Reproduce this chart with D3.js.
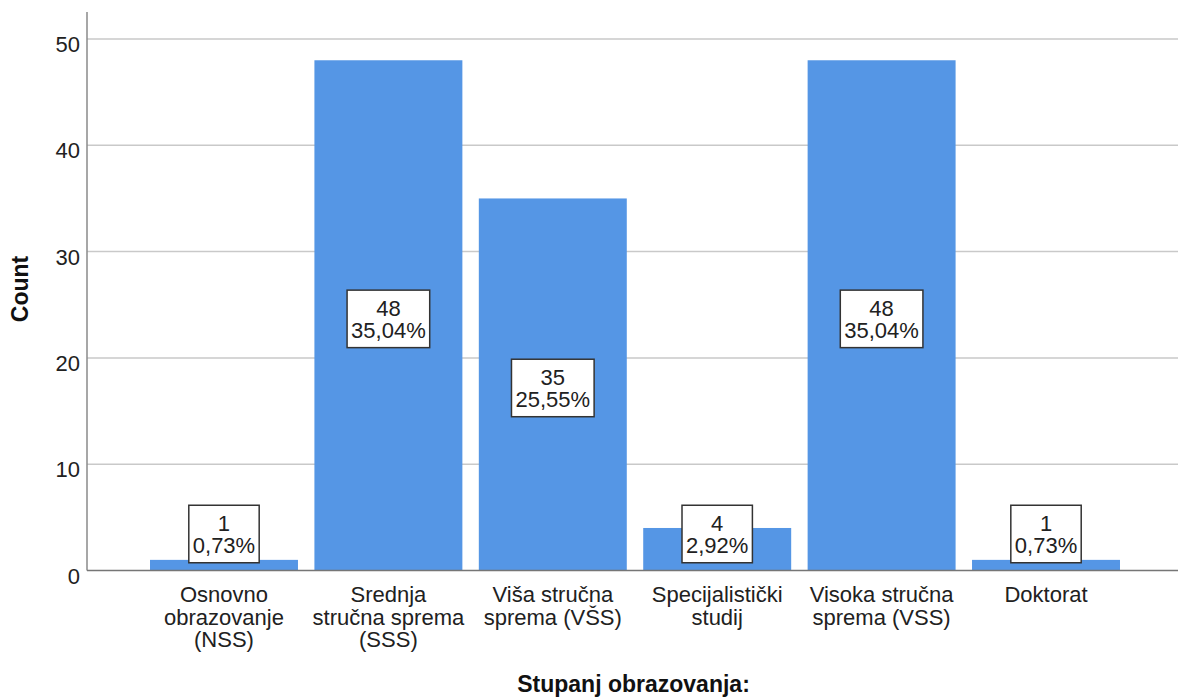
<!DOCTYPE html>
<html>
<head>
<meta charset="utf-8">
<script src="https://cdn.jsdelivr.net/npm/d3@7"></script>
<style>
  html, body { margin: 0; padding: 0; background: #ffffff; }
  svg { display: block; font-family: "Liberation Sans", Arial, sans-serif; }
</style>
</head>
<body>
<svg id="chart" width="1178" height="698"></svg>
<script>
// ---- data ----
const categories = [
  "Osnovno\nobrazovanje\n(NSS)",
  "Srednja\nstručna sprema\n(SSS)",
  "Viša stručna\nsprema (VŠS)",
  "Specijalistički\nstudij",
  "Visoka stručna\nsprema (VSS)",
  "Doktorat"
];
const counts = [1, 48, 35, 4, 48, 1];
const percentLabels = ["0,73%", "35,04%", "25,55%", "2,92%", "35,04%", "0,73%"];
const yTicks = [0, 10, 20, 30, 40, 50];
const xTitle = "Stupanj obrazovanja:";
const yTitle = "Count";

// ---- layout ----
const plot = { left: 87, right: 1178, top: 12, bottom: 570.5 };
const barColor = "#5596e5";
const textColor = "#212121";

const svg = d3.select("#chart");

const x = d3.scaleBand()
  .domain(categories)
  .range([90, 1180])
  .paddingInner(0.1)
  .paddingOuter(0.365);

const y = d3.scaleLinear()
  .domain([0, 52.54])
  .range([plot.bottom, plot.top]);

// gridlines
svg.append("g")
  .selectAll("line")
  .data(yTicks.filter(d => d > 0))
  .join("line")
  .attr("x1", plot.left).attr("x2", plot.right)
  .attr("y1", d => y(d)).attr("y2", d => y(d))
  .attr("stroke", "#c9c9c9")
  .attr("stroke-width", 1.5);

// bars
svg.append("g")
  .selectAll("rect")
  .data(categories)
  .join("rect")
  .attr("x", d => x(d))
  .attr("width", x.bandwidth())
  .attr("y", (d, i) => y(counts[i]))
  .attr("height", (d, i) => y(0) - y(counts[i]))
  .attr("fill", barColor);

// axes lines
svg.append("line")
  .attr("x1", plot.left).attr("x2", plot.left)
  .attr("y1", plot.top).attr("y2", plot.bottom)
  .attr("stroke", "#8a8a8a").attr("stroke-width", 1.5);
svg.append("line")
  .attr("x1", plot.left).attr("x2", plot.right)
  .attr("y1", plot.bottom).attr("y2", plot.bottom)
  .attr("stroke", "#767676").attr("stroke-width", 1.5);

// y tick labels
const yAxis = d3.axisLeft(y).tickValues(yTicks).tickSize(0).tickPadding(0);
const gy = svg.append("g").attr("transform", `translate(80,0)`).call(yAxis);
gy.select(".domain").remove();
gy.selectAll("text")
  .attr("font-family", "'Liberation Sans', Arial, sans-serif")
  .attr("font-size", 22)
  .attr("fill", textColor)
  .attr("dy", null)
  .attr("y", 12.5)
  .attr("x", 0);

// x category labels
const gx = svg.append("g");
categories.forEach(c => {
  const lines = c.split("\n");
  const t = gx.append("text")
    .attr("text-anchor", "middle")
    .attr("font-size", 22)
    .attr("fill", textColor);
  lines.forEach((ln, k) => {
    t.append("tspan")
      .attr("x", x(c) + x.bandwidth() / 2)
      .attr("y", 602 + k * 22.5)
      .text(ln);
  });
});

// value label boxes
const boxH = 57.5;
const lg = svg.append("g");
categories.forEach((c, i) => {
  const cx = x(c) + x.bandwidth() / 2;
  let cy = y(counts[i] / 2) + 3.5;
  cy = Math.min(cy, y(0) - 36.5);
  const g = lg.append("g");
  const rect = g.append("rect");
  const t = g.append("text").attr("text-anchor", "middle").attr("font-size", 22)
    .attr("fill", textColor);
  const s1 = t.append("tspan").attr("x", cx).attr("y", cy - 3).text(String(counts[i]));
  const s2 = t.append("tspan").attr("x", cx).attr("y", cy + 19).text(percentLabels[i]);
  const tw = Math.max(s1.node().getComputedTextLength(), s2.node().getComputedTextLength());
  const bw = tw + 8;
  rect.attr("x", cx - bw / 2).attr("y", cy - boxH / 2)
    .attr("width", bw).attr("height", boxH)
    .attr("fill", "#ffffff").attr("stroke", "#333333").attr("stroke-width", 1.5);
});

// axis titles
svg.append("text")
  .attr("text-anchor", "middle")
  .attr("font-size", 23)
  .attr("font-weight", "bold")
  .attr("fill", "#111")
  .attr("x", (plot.left + plot.right) / 2 + 1)
  .attr("y", 692)
  .text(xTitle);

svg.append("text")
  .attr("text-anchor", "middle")
  .attr("font-size", 23)
  .attr("font-weight", "bold")
  .attr("fill", "#111")
  .attr("transform", `translate(28,289) rotate(-90)`)
  .text(yTitle);
</script>
</body>
</html>
